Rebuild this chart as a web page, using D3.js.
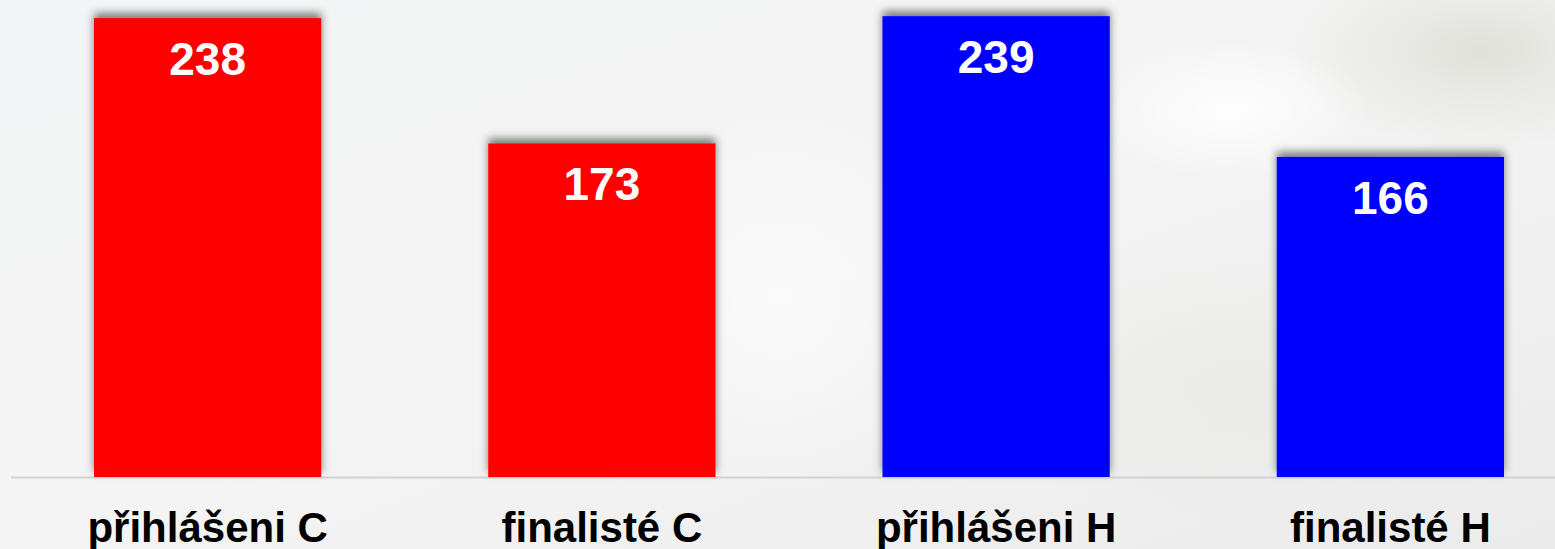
<!DOCTYPE html>
<meta charset="utf-8">
<style>
  body { margin: 0; background: #efefef; overflow: hidden; }
  .cat { font-family: "Liberation Sans", Arial, sans-serif; font-weight: bold; font-size: 42px; fill: #000; }
  .val { font-family: "Liberation Sans", Arial, sans-serif; font-weight: bold; font-size: 46px; fill: #fff; }
</style>
<body>
<script src="https://d3js.org/d3.v7.min.js"></script>
<script>

// chart data
var categories = ["přihlášeni C", "finalisté C", "přihlášeni H", "finalisté H"];
var values = [238, 173, 239, 166];
var colors = ["#ff0000", "#ff0000", "#0000ff", "#0000ff"];

var width = 1555, height = 549;
var baseline = 477;

var svg = d3.select("body").append("svg")
    .attr("width", width).attr("height", height);

var defs = svg.append("defs");

// soft photo-like background
var bg = defs.append("linearGradient").attr("id", "bg")
    .attr("x1", 0).attr("y1", 0).attr("x2", 1).attr("y2", 1);
bg.append("stop").attr("offset", "0%").attr("stop-color", "#f3f4f5");
bg.append("stop").attr("offset", "50%").attr("stop-color", "#f4f4f4");
bg.append("stop").attr("offset", "100%").attr("stop-color", "#eaebea");

var blob1 = defs.append("radialGradient").attr("id", "blob1");
blob1.append("stop").attr("offset", "0%").attr("stop-color", "#dcdcd4").attr("stop-opacity", 0.8);
blob1.append("stop").attr("offset", "100%").attr("stop-color", "#dcdcd4").attr("stop-opacity", 0);

var blob2 = defs.append("radialGradient").attr("id", "blob2");
blob2.append("stop").attr("offset", "0%").attr("stop-color", "#ffffff").attr("stop-opacity", 0.9);
blob2.append("stop").attr("offset", "100%").attr("stop-color", "#ffffff").attr("stop-opacity", 0);

var shadow = defs.append("filter").attr("id", "shadow")
    .attr("x", "-10%").attr("y", "-10%").attr("width", "120%").attr("height", "120%");
shadow.append("feDropShadow")
    .attr("dx", 0).attr("dy", -5).attr("stdDeviation", 4)
    .attr("flood-color", "#000").attr("flood-opacity", 0.5);

svg.append("rect").attr("width", width).attr("height", height).attr("fill", "url(#bg)");
svg.append("ellipse").attr("cx", 1480).attr("cy", 50).attr("rx", 200).attr("ry", 100).attr("fill", "url(#blob1)");
svg.append("ellipse").attr("cx", 1230).attr("cy", 380).attr("rx", 260).attr("ry", 140).attr("fill", "url(#blob1)").attr("opacity", 0.3);
svg.append("ellipse").attr("cx", 1230).attr("cy", 110).attr("rx", 140).attr("ry", 70).attr("fill", "url(#blob2)");
svg.append("ellipse").attr("cx", 780).attr("cy", 300).attr("rx", 200).attr("ry", 200).attr("fill", "url(#blob2)").attr("opacity", 0.6);

// scales
var x = d3.scaleBand()
    .domain(categories)
    .range([10.5, 1587.5])
    .paddingInner(0.4236)
    .paddingOuter(0.2118);

var y = d3.scaleLinear()
    .domain([0, 247.4])
    .range([baseline, 0]);

// baseline
svg.append("line")
    .attr("x1", 11).attr("x2", width)
    .attr("y1", baseline + 0.5).attr("y2", baseline + 0.5)
    .attr("stroke", "#d2d2d2").attr("stroke-width", 2);

// bars
svg.append("g").selectAll("rect")
    .data(values)
    .enter().append("rect")
    .attr("x", function(d, i) { return x(categories[i]); })
    .attr("y", function(d) { return y(d); })
    .attr("width", x.bandwidth())
    .attr("height", function(d) { return baseline - y(d); })
    .attr("fill", function(d, i) { return colors[i]; })
    .attr("filter", "url(#shadow)");

// value labels
svg.append("g").selectAll("text")
    .data(values)
    .enter().append("text")
    .attr("class", "val")
    .attr("text-anchor", "middle")
    .attr("x", function(d, i) { return x(categories[i]) + x.bandwidth() / 2; })
    .attr("y", function(d) { return y(d) + 57; })
    .text(function(d) { return d; });

// category labels
svg.append("g").selectAll("text")
    .data(categories)
    .enter().append("text")
    .attr("class", "cat")
    .attr("text-anchor", "middle")
    .attr("x", function(d) { return x(d) + x.bandwidth() / 2; })
    .attr("y", 542)
    .text(function(d) { return d; });

</script>
</body>
